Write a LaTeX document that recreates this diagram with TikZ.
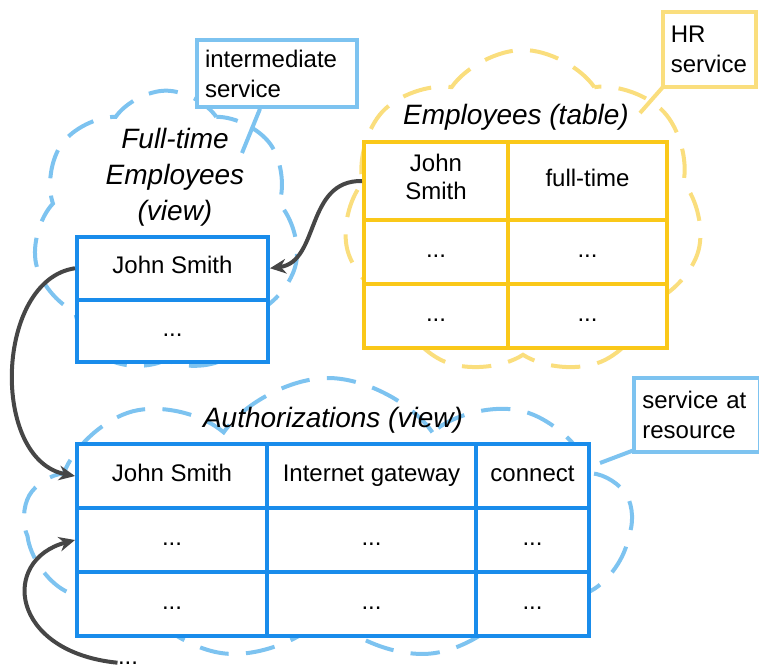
\documentclass[tikz,border=0pt]{standalone}
\usepackage{fontspec}
\setmainfont{Liberation Sans}
\usetikzlibrary{shapes.symbols,arrows.meta}

\definecolor{tblblue}{RGB}{25,140,235}
\definecolor{softblue}{RGB}{125,195,240}
\definecolor{tblgold}{RGB}{250,200,25}
\definecolor{softgold}{RGB}{250,222,125}
\definecolor{linkgray}{RGB}{70,70,70}

\tikzset{every picture/.style={line width=0.75pt}}
\tikzset{
  cellfont/.style={font=\fontsize{18}{21}\selectfont, execute at begin node=\strut},
  bluecell/.style={cellfont, draw=tblblue, line width=3pt, fill=white, inner sep=0pt, align=center},
  goldcell/.style={cellfont, draw=tblgold, line width=3pt, fill=white, inner sep=0pt, align=center},
  viewtitle/.style={font=\fontsize{21}{27}\selectfont\itshape, align=center},
  callout/.style={font=\fontsize{18}{22.5}\selectfont, line width=3pt, fill=white, inner sep=6pt, align=left},
  bluecloud/.style={cloud, cloud puffs=7, cloud puff arc=110, cloud ignores aspect, draw=softblue, line width=3pt, dash pattern=on 22pt off 13pt},
  goldcloud/.style={cloud, cloud puffs=7, cloud puff arc=110, cloud ignores aspect, draw=softgold, line width=3pt, dash pattern=on 22pt off 13pt},
  link/.style={draw=linkgray, line width=3pt, -{Stealth[length=12pt,width=11pt]}}
}

\begin{document}
\begin{tikzpicture}[x=0.75pt,y=0.75pt,yscale=-1,xscale=1]
        \useasboundingbox (0,0) rectangle (759,667);

        %Clouds
        \node[bluecloud, minimum width=200pt, minimum height=212pt] (ftcloud) at (166,232) {};
        \node[goldcloud, minimum width=270pt, minimum height=246pt] (empcloud) at (523,214) {};
        \node[bluecloud, cloud puffs=9, minimum width=455pt, minimum height=213pt] (authcloud) at (328,520) {};

        %Full-time Employees (view)
        \node[viewtitle] (fttitle) at (175,177) {Full-time\\Employees\\(view)};
        \node[bluecell, minimum width=143.25pt, minimum height=46.875pt] (ft1) at (172.5,268.25) {John Smith};
        \node[bluecell, minimum width=143.25pt, minimum height=46.875pt] (ft2) at (172.5,330.75) {...};

        %Employees (table)
        \node[viewtitle] (emptitle) at (516,117) {Employees (table)};
        \node[goldcell, minimum width=108pt, minimum height=58.5pt] (emp11) at (436,181) {John\\Smith};
        \node[goldcell, minimum width=119.25pt, minimum height=58.5pt] (emp12) at (587.5,181) {full-time};
        \node[goldcell, minimum width=108pt, minimum height=48pt] (emp21) at (436,252) {...};
        \node[goldcell, minimum width=119.25pt, minimum height=48pt] (emp22) at (587.5,252) {...};
        \node[goldcell, minimum width=108pt, minimum height=48pt] (emp31) at (436,316) {...};
        \node[goldcell, minimum width=119.25pt, minimum height=48pt] (emp32) at (587.5,316) {...};

        %Authorizations (view)
        \node[viewtitle] (authtitle) at (333,420) {Authorizations (view)};
        \node[bluecell, minimum width=142.5pt, minimum height=48pt] (auth11) at (172,476) {John Smith};
        \node[bluecell, minimum width=156.75pt, minimum height=48pt] (auth12) at (371.5,476) {Internet gateway};
        \node[bluecell, minimum width=84.75pt, minimum height=48pt] (auth13) at (532.5,476) {connect};
        \node[bluecell, minimum width=142.5pt, minimum height=48pt] (auth21) at (172,540) {...};
        \node[bluecell, minimum width=156.75pt, minimum height=48pt] (auth22) at (371.5,540) {...};
        \node[bluecell, minimum width=84.75pt, minimum height=48pt] (auth23) at (532.5,540) {...};
        \node[bluecell, minimum width=142.5pt, minimum height=48pt] (auth31) at (172,604) {...};
        \node[bluecell, minimum width=156.75pt, minimum height=48pt] (auth32) at (371.5,604) {...};
        \node[bluecell, minimum width=84.75pt, minimum height=48pt] (auth33) at (532.5,604) {...};

        %Callouts
        \node[callout, draw=softblue, text width=108pt, minimum height=50pt] (midsvc) at (277,73.5) {intermediate\\service};
        \node[callout, draw=softgold, text width=58pt, minimum height=56pt] (hrsvc) at (709.5,49.5) {HR\\service};
        \node[callout, draw=softblue, text width=82pt, minimum height=55.5pt] (ressvc) at (697,415) {service at\\resource};
        \coordinate (midtip) at (242,153);
        \coordinate (hrtip) at (640,113);
        \coordinate (restip) at (600,463);
        \draw[softblue, line width=3pt] (midsvc.south) ++(-17,0) -- (midtip);
        \draw[softgold, line width=3pt] (hrsvc.south west) ++(4,-4) -- (hrtip);
        \draw[softblue, line width=3pt] (ressvc.south west) ++(2,-4) -- (restip);

        %Curve Lines
        \draw[link] (emp11.west) .. controls (305,180) and (320,262) .. (ft1.east);
        %Curve Lines
        \draw[link] (ft1.west) .. controls (-5,280) and (-10,460) .. (auth11.west);
        %Curve Lines
        \node[font=\fontsize{18}{21}\selectfont, anchor=base, inner sep=0pt] (more) at (128,664) {...};
        \draw[link] (more.west) .. controls (10,652) and (0,560) .. (auth21.west);

        \end{tikzpicture}
\end{document}
